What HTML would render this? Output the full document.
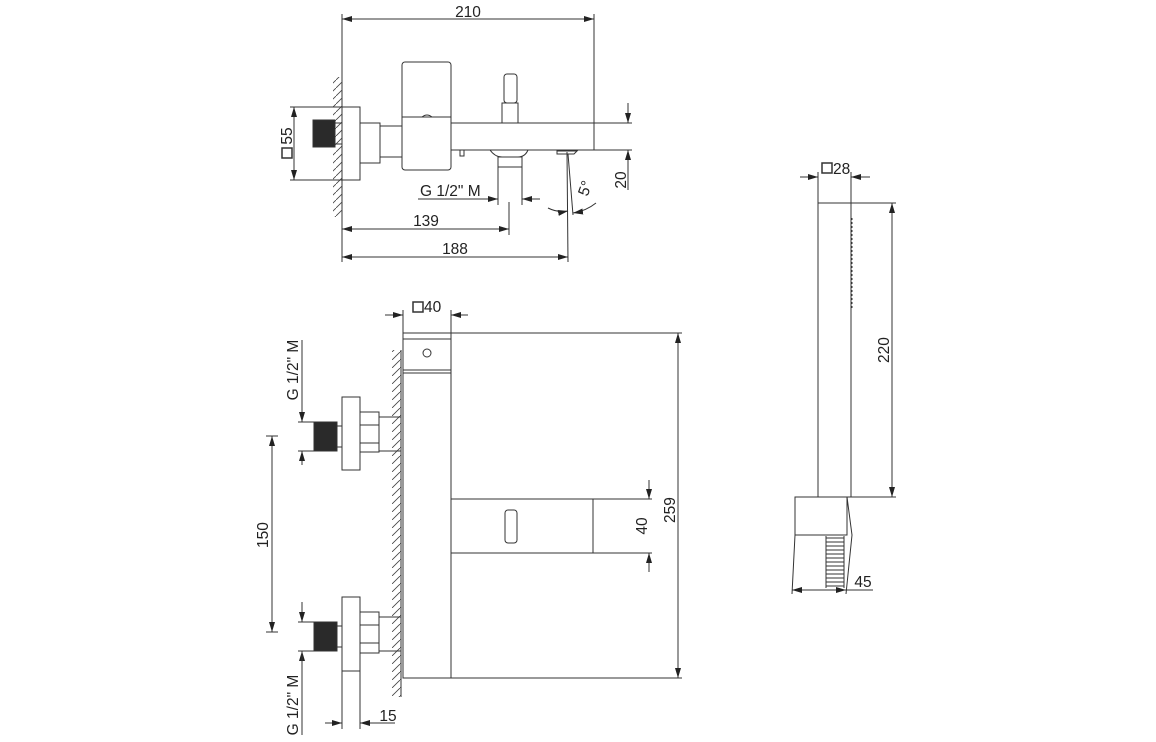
<!DOCTYPE html>
<html><head><meta charset="utf-8"><style>
html,body{margin:0;padding:0;background:#fff}
svg{display:block}
text{font-family:"Liberation Sans",sans-serif;font-size:15.5px;fill:#222}
</style></head><body>
<svg width="1156" height="742" viewBox="0 0 1156 742" xmlns="http://www.w3.org/2000/svg">
<defs>
<marker id="a" viewBox="0 0 10 6" refX="10" refY="3" markerWidth="10" markerHeight="6" orient="auto-start-reverse" markerUnits="userSpaceOnUse"><path d="M0,0 L10,3 L0,6z" fill="#222"/></marker>
<pattern id="h" width="8" height="8" patternUnits="userSpaceOnUse"><path d="M0,8 L8,0" stroke="#444" stroke-width="0.8"/></pattern>
</defs>
<g stroke="#333" stroke-width="1" fill="none">
<!-- TOP VIEW -->
<line x1="342" y1="14" x2="342" y2="262"/>
<line x1="594" y1="14" x2="594" y2="150"/>
<line x1="342" y1="19" x2="594" y2="19" marker-start="url(#a)" marker-end="url(#a)"/>
<rect x="333" y="77" width="9" height="140" fill="url(#h)" stroke="none"/>
<rect x="342" y="107" width="18" height="73"/>
<line x1="290" y1="107" x2="342" y2="107"/><line x1="290" y1="180" x2="342" y2="180"/>
<line x1="294" y1="107" x2="294" y2="180" marker-start="url(#a)" marker-end="url(#a)"/>
<rect x="313" y="120" width="22" height="27" fill="#2a2a2a"/>
<rect x="335" y="123" width="7" height="21"/>
<rect x="360" y="123" width="20" height="40"/>
<rect x="380" y="126" width="22" height="31"/>
<rect x="402" y="62" width="49" height="108" rx="3"/>
<line x1="402" y1="117" x2="451" y2="117"/>
<path d="M422,117 q5,-4 10,0"/>
<rect x="451" y="123" width="143" height="27"/>
<line x1="594" y1="123" x2="632" y2="123"/><line x1="594" y1="150" x2="632" y2="150"/>
<line x1="628" y1="103" x2="628" y2="123" marker-end="url(#a)"/>
<line x1="628" y1="190" x2="628" y2="150" marker-end="url(#a)"/>
<rect x="504" y="74" width="13" height="29" rx="3"/>
<rect x="502" y="103" width="16" height="20"/>
<rect x="460" y="150" width="4" height="6"/>
<path d="M490,150 q5,7 12,7 h16 q7,0 10,-7"/>
<rect x="498" y="157" width="24" height="10"/>
<line x1="498" y1="167" x2="498" y2="205"/><line x1="522" y1="167" x2="522" y2="205"/>
<line x1="418" y1="199" x2="498" y2="199" marker-end="url(#a)"/>
<line x1="540" y1="199" x2="522" y2="199" marker-end="url(#a)"/>
<line x1="509" y1="202" x2="509" y2="235"/>
<line x1="342" y1="229" x2="509" y2="229" marker-start="url(#a)" marker-end="url(#a)"/>
<path d="M557,151 h20 l-3,3 h-17z"/>
<line x1="567" y1="152" x2="568" y2="262"/>
<line x1="568" y1="154" x2="573" y2="215"/>
<path d="M548,208 q10,5 20,3" marker-end="url(#a)"/>
<path d="M596,203 q-10,8 -23,10" marker-end="url(#a)"/>
<line x1="342" y1="257" x2="568" y2="257" marker-start="url(#a)" marker-end="url(#a)"/>

<!-- FRONT VIEW -->
<line x1="385" y1="315" x2="403" y2="315" marker-end="url(#a)"/>
<line x1="468" y1="315" x2="451" y2="315" marker-end="url(#a)"/>
<line x1="403" y1="310" x2="403" y2="333"/><line x1="451" y1="310" x2="451" y2="333"/>
<rect x="392" y="350" width="9" height="347" fill="url(#h)" stroke="none"/>
<line x1="401" y1="350" x2="401" y2="697"/>
<rect x="403" y="333" width="48" height="345"/>
<line x1="403" y1="339" x2="451" y2="339"/>
<line x1="403" y1="370" x2="451" y2="370"/>
<line x1="403" y1="373" x2="451" y2="373"/>
<circle cx="427" cy="353" r="4"/>
<line x1="451" y1="333" x2="682" y2="333"/>
<line x1="451" y1="678" x2="682" y2="678"/>
<line x1="678" y1="333" x2="678" y2="678" marker-start="url(#a)" marker-end="url(#a)"/>
<rect x="451" y="499" width="142" height="54"/>
<line x1="593" y1="499" x2="652" y2="499"/><line x1="593" y1="553" x2="652" y2="553"/>
<line x1="649" y1="480" x2="649" y2="499" marker-end="url(#a)"/>
<line x1="649" y1="572" x2="649" y2="553" marker-end="url(#a)"/>
<rect x="505" y="510" width="12" height="33" rx="3"/>
<rect x="342" y="397" width="18" height="73"/>
<rect x="360" y="412" width="19" height="40"/>
<line x1="360" y1="425" x2="379" y2="425"/><line x1="360" y1="443" x2="379" y2="443"/>
<line x1="379" y1="417" x2="401" y2="417"/><line x1="379" y1="451" x2="401" y2="451"/>
<rect x="314" y="422" width="23" height="29" fill="#2a2a2a"/>
<rect x="337" y="426" width="5" height="21"/>
<rect x="342" y="597" width="18" height="74"/>
<rect x="360" y="612" width="19" height="41"/>
<line x1="360" y1="625" x2="379" y2="625"/><line x1="360" y1="643" x2="379" y2="643"/>
<line x1="379" y1="617" x2="401" y2="617"/><line x1="379" y1="651" x2="401" y2="651"/>
<rect x="314" y="622" width="23" height="29" fill="#2a2a2a"/>
<rect x="337" y="626" width="5" height="21"/>
<line x1="302" y1="410" x2="302" y2="422" marker-end="url(#a)"/>
<line x1="302" y1="465" x2="302" y2="451" marker-end="url(#a)"/>
<line x1="298" y1="422" x2="314" y2="422"/><line x1="298" y1="451" x2="314" y2="451"/>
<line x1="302" y1="340" x2="302" y2="410"/>
<line x1="302" y1="602" x2="302" y2="622" marker-end="url(#a)"/>
<line x1="302" y1="665" x2="302" y2="651" marker-end="url(#a)"/>
<line x1="298" y1="622" x2="314" y2="622"/><line x1="298" y1="651" x2="314" y2="651"/>
<line x1="302" y1="651" x2="302" y2="735"/>
<line x1="266" y1="436" x2="278" y2="436"/><line x1="266" y1="632" x2="278" y2="632"/>
<line x1="272" y1="436" x2="272" y2="632" marker-start="url(#a)" marker-end="url(#a)"/>
<line x1="342" y1="671" x2="342" y2="729"/><line x1="360" y1="671" x2="360" y2="729"/>
<line x1="325" y1="723" x2="342" y2="723" marker-end="url(#a)"/>
<line x1="395" y1="723" x2="360" y2="723" marker-end="url(#a)"/>

<!-- HANDSET -->
<line x1="818" y1="172" x2="818" y2="203"/><line x1="851" y1="172" x2="851" y2="203"/>
<line x1="800" y1="177" x2="818" y2="177" marker-end="url(#a)"/>
<line x1="870" y1="177" x2="851" y2="177" marker-end="url(#a)"/>
<rect x="818" y="203" width="33" height="294"/>
<line x1="851" y1="203" x2="896" y2="203"/><line x1="851" y1="497" x2="896" y2="497"/>
<line x1="892" y1="203" x2="892" y2="497" marker-start="url(#a)" marker-end="url(#a)"/>
<line x1="852" y1="218" x2="852" y2="308" stroke-dasharray="2,2"/>
<rect x="795" y="497" width="52" height="38"/>
<path d="M795,535 L792,594 M847,497 L852,535 L846,594"/>
<path d="M826,538 h18 M826,542 h18 M826,546 h18 M826,550 h18 M826,554 h18 M826,558 h18 M826,562 h18 M826,566 h18 M826,570 h18 M826,574 h18 M826,578 h18 M826,582 h18 M826,586 h18"/>
<line x1="826" y1="536" x2="826" y2="588"/><line x1="844" y1="536" x2="844" y2="588"/>
<line x1="792" y1="590" x2="846" y2="590" marker-start="url(#a)" marker-end="url(#a)"/>
<line x1="846" y1="590" x2="873" y2="590"/>
<!-- square symbols -->
<rect x="282" y="148" width="10" height="10" stroke-width="1.5"/>
<rect x="413" y="302" width="10" height="10" stroke-width="1.5"/>
<rect x="822" y="163" width="10" height="10" stroke-width="1.5"/>
</g>
<g>
<text x="468" y="17" text-anchor="middle">210</text>
<text x="292" y="136" transform="rotate(-90 292 136)" text-anchor="middle">55</text>
<text x="420" y="196">G 1/2" M</text>
<text x="426" y="226" text-anchor="middle">139</text>
<text x="455" y="254" text-anchor="middle">188</text>
<text x="590" y="190" transform="rotate(-70 590 190)" text-anchor="middle">5°</text>
<text x="626" y="180" transform="rotate(-90 626 180)" text-anchor="middle">20</text>
<text x="424" y="312">40</text>
<text x="675" y="510" transform="rotate(-90 675 510)" text-anchor="middle">259</text>
<text x="647" y="526" transform="rotate(-90 647 526)" text-anchor="middle">40</text>
<text x="298" y="370" transform="rotate(-90 298 370)" text-anchor="middle">G 1/2" M</text>
<text x="298" y="705" transform="rotate(-90 298 705)" text-anchor="middle">G 1/2" M</text>
<text x="268" y="535" transform="rotate(-90 268 535)" text-anchor="middle">150</text>
<text x="388" y="721" text-anchor="middle">15</text>
<text x="833" y="174">28</text>
<text x="889" y="350" transform="rotate(-90 889 350)" text-anchor="middle">220</text>
<text x="863" y="587" text-anchor="middle">45</text>
</g>
</svg>
</body></html>
